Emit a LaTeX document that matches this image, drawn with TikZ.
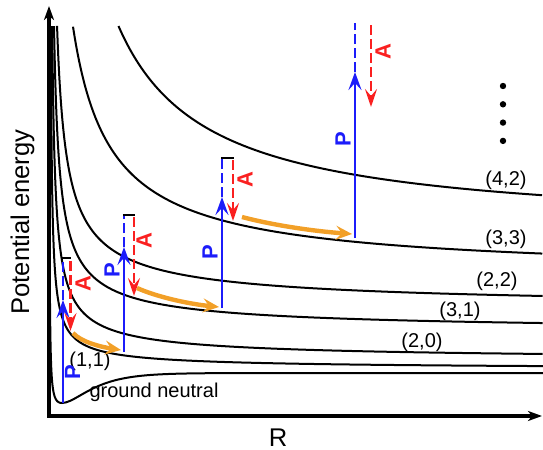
\documentclass[tikz,border=0pt]{standalone}
\usepackage{fontspec}
\setmainfont{Liberation Sans}
\usetikzlibrary{arrows.meta}
\definecolor{pblue}{RGB}{28,28,250}
\definecolor{ared}{RGB}{250,32,32}
\definecolor{hop}{RGB}{242,160,40}

\tikzset{
  pes/.style={line width=1pt},
  axis/.style={line width=2pt, line join=miter,
    {Stealth[length=7pt,width=5pt,inset=2pt]}-{Stealth[length=7pt,width=5pt,inset=2pt]}},
  pline/.style={pblue, line width=1.3pt, -{Stealth[length=9pt,width=6.5pt,inset=3.5pt]}},
  pdash/.style={pblue, line width=1.3pt, dash pattern=on 5pt off 2pt},
  aline/.style={ared, line width=1.2pt, dash pattern=on 5pt off 2pt,
    -{Stealth[length=9pt,width=6pt,inset=3.5pt]}},
  hoparrow/.style={hop, line width=2.2pt, -{Stealth[length=8pt,width=7pt,inset=3pt]}},
  tick/.style={line width=1pt},
  lvl/.style={font=\fontsize{10}{12}\selectfont, inner sep=0pt},
  plabel/.style={pblue, font=\fontsize{11}{13}\selectfont\bfseries, rotate=90, inner sep=0pt},
  alabel/.style={ared, font=\fontsize{11}{13}\selectfont\bfseries, rotate=90, inner sep=0pt},
  axlabel/.style={font=\fontsize{12.8}{15}\selectfont, inner sep=0pt},
  dot/.style={circle, fill, inner sep=0pt, minimum size=3.2pt}
}

\begin{document}
\begin{tikzpicture}[x=0.5pt, y=-0.5pt]
\useasboundingbox (0,0) rectangle (543,450);

% potential curves (log of amplitude, so numbers stay small)
\foreach \Elev/\lnA/\xo/\pw/\ts in {
  369.8/5.745/50/0.715/-0.132,
  361/6.385/50/0.715/0.799,
  332.9/6.721/50/0.715/1.391,
  309.6/7.045/50/0.715/1.954,
  277/8.565/40/0.87/3.497,
  230.7/9.809/29.6/1/4.4875
} {
  \pgfmathsetmacro{\te}{ln(543-\xo)}
  \draw[pes] plot[variable=\s, domain=\ts:\te, samples=160]
    ({\xo+exp(\s)}, {\Elev-exp(\lnA-\pw*\s)});
}
% ground neutral
\draw[pes] plot[domain=49.8:62, samples=60] (\x, {403-0.69*(62-\x)^2/(\x-49)})
  -- plot[domain=62:543, samples=120] (\x, {403-30*(1-exp(-0.0384*(\x-62)))^2});

% axes
\coordinate (ytop) at (49,6);
\coordinate (orig) at (49,416);
\coordinate (xend) at (542,416);
\draw[axis] (ytop) -- (orig) -- (xend);
\node[axlabel, rotate=90] (ylab) at (22.5,222) {Potential energy};
\node[axlabel] (xlab) at (278,438) {R};

% level labels
\node[lvl] (l42) at (506,180) {(4,2)};
\node[lvl] (l33) at (506,239) {(3,3)};
\node[lvl] (l22) at (497,281) {(2,2)};
\node[lvl] (l31) at (460,311) {(3,1)};
\node[lvl] (l20) at (422,342) {(2,0)};
\node[lvl] (l11) at (90,361) {(1,1)};
\node[lvl] (lgn) at (154,392) {ground neutral};

% P and A transitions
\foreach \g/\xp/\yb/\yh/\yt/\xa/\ya/\yz/\px/\py/\ax/\ay in {
  1/63/403/300/258/70.5/261/331/72.5/372/83/284,
  2/124/352/247/215/134/217/296/112/270/144/241,
  3/222/308/197/158/233/160/221/210/252/245/180,
  4/355/238/72/23/371/25/107/343/139/383/52
} {
  \coordinate (pb\g) at (\xp,\yb);
  \coordinate (ph\g) at (\xp,\yh);
  \coordinate (pt\g) at (\xp,\yt);
  \coordinate (at\g) at (\xa,\ya);
  \coordinate (ab\g) at (\xa,\yz);
  \draw[pdash] (ph\g) -- (pt\g);
  \draw[pline] (pb\g) -- (ph\g);
  \draw[aline] (at\g) -- (ab\g);
  \node[plabel] (pl\g) at (\px,\py) {P};
  \node[alabel] (al\g) at (\ax,\ay) {A};
}
\foreach \g in {1,2,3}
  \draw[tick] ([xshift=-0.5pt]pt\g) -- ([xshift=0.5pt]pt\g -| at\g);

% hops along the curves
\coordinate (o1s) at (73,333);
\coordinate (o1e) at (121,350);
\coordinate (o2s) at (137,288);
\coordinate (o2e) at (219,307);
\coordinate (o3s) at (242,217);
\coordinate (o3e) at (352,234);
\draw[hoparrow] (o1s) .. controls +(8,9) and +(-20,-3) .. (o1e);
\draw[hoparrow] (o2s) .. controls +(20,9) and +(-30,-3) .. (o2e);
\draw[hoparrow] (o3s) .. controls +(30,8) and +(-40,-3) .. (o3e);

% more levels
\foreach \k in {0,...,3}
  \node[dot] (d\k) at (503,{86+18.3*\k}) {};
\end{tikzpicture}
\end{document}
